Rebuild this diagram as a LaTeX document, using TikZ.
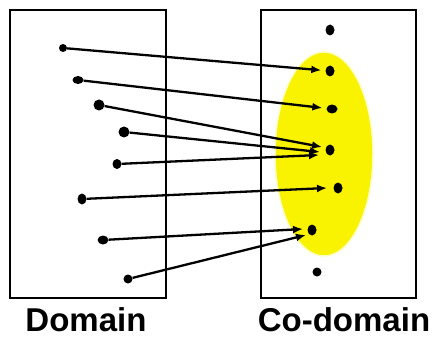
\documentclass[tikz,border=0pt]{standalone}
\usepackage{fontspec}
\setmainfont{Liberation Sans}
\usetikzlibrary{shapes.geometric,arrows.meta}
\definecolor{setyellow}{HTML}{F9F200}
\definecolor{paleyellow}{HTML}{FFFDC0}
\begin{document}
\begin{tikzpicture}[x=1pt,y=-1pt,
  dot/.style={ellipse,fill=black,inner sep=0pt,minimum width=#1},
  box/.style={draw=black,line width=2.6pt},
  map/.style={line width=2.3pt,-{Latex[length=10pt,width=8pt]},shorten >=4pt},
  lbl/.style={font=\fontsize{33}{36}\selectfont\bfseries,anchor=base,inner sep=0pt}]
\useasboundingbox (0,0) rectangle (438,339);
\node[box,minimum width=156pt,minimum height=288pt,inner sep=0pt] (dom) at (88,154) {};
\node[box,minimum width=155pt,minimum height=288pt,inner sep=0pt] (cod) at (338.5,154) {};
\node[ellipse,fill=setyellow,draw=paleyellow,line width=1.5pt,minimum width=98pt,minimum height=204pt,inner sep=0pt] (img) at (324,154) {};
% domain dots
\node[dot=8pt,minimum height=8pt] (d1) at (63,48) {};
\node[dot=11pt,minimum height=8pt] (d2) at (78,80) {};
\node[dot=11pt,minimum height=11pt] (d3) at (99,105) {};
\node[dot=11pt,minimum height=11pt] (d4) at (124,132) {};
\node[dot=9pt,minimum height=10pt] (d5) at (117,164) {};
\node[dot=9pt,minimum height=11pt] (d6) at (82,199) {};
\node[dot=11pt,minimum height=9pt] (d7) at (103,240) {};
\node[dot=9pt,minimum height=9pt] (d8) at (128,279) {};
% codomain dots
\node[dot=9pt,minimum height=11pt] (c0) at (330,30) {};
\node[dot=9pt,minimum height=11pt] (c1) at (330,71) {};
\node[dot=11pt,minimum height=9pt] (c2) at (332,109) {};
\node[dot=9pt,minimum height=11pt] (c3) at (330,150) {};
\node[dot=9pt,minimum height=11pt] (c4) at (338,188) {};
\node[dot=9pt,minimum height=11pt] (c5) at (312,230) {};
\node[dot=9pt,minimum height=9pt] (c6) at (317,272) {};
% mapping arrows
\coordinate (t3) at (322,147);
\coordinate (t4) at (320,152);
\coordinate (t5) at (319,155);
\coordinate (t6) at (327,188);
\coordinate (t7) at (303,229);
\coordinate (t8) at (306,235);
\draw[map] (d1) -- (c1);
\draw[map] (d2) -- (c2);
\draw[map,shorten >=0pt] (d3) -- (t3);
\draw[map,shorten >=0pt] (d4) -- (t4);
\draw[map,shorten >=0pt] (d5) -- (t5);
\draw[map,shorten >=0pt] (d6) -- (t6);
\draw[map,shorten >=0pt] (d7) -- (t7);
\draw[map,shorten >=0pt] (d8) -- (t8);
% labels
\node[lbl] (ldom) at (86,331.5) {Domain};
\node[lbl] (lcod) at (344,331.5) {Co-domain};
\end{tikzpicture}
\end{document}
